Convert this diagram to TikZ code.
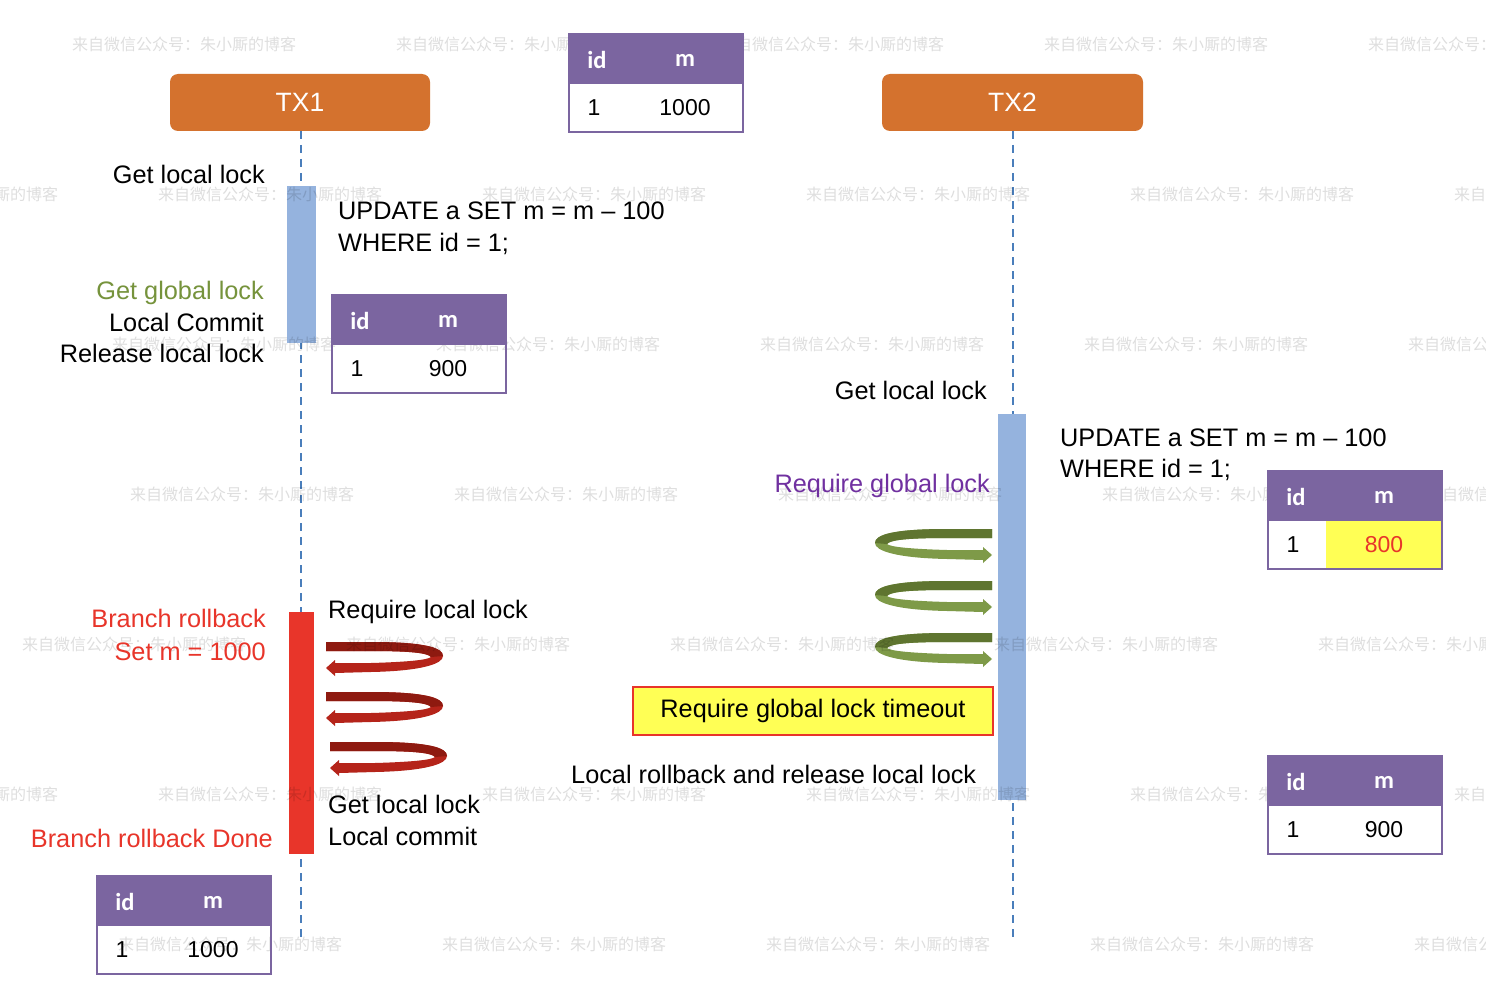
\documentclass[tikz,border=0pt]{standalone}
\usepackage{fontspec}
\setmainfont{Liberation Sans}
\newfontfamily\hdrfont{Carlito}
\newfontfamily\cjkfont{Noto Sans CJK SC}
\definecolor{txorange}{HTML}{D4722E}
\definecolor{lifeblue}{HTML}{4A7EBB}
\definecolor{barblue}{HTML}{95B3DE}
\definecolor{barred}{HTML}{E8352A}
\definecolor{tblpurple}{HTML}{7B65A0}
\definecolor{ggreen}{HTML}{76933C}
\definecolor{rpurple}{HTML}{7030A0}
\definecolor{txtred}{HTML}{E8352A}
\definecolor{hlyellow}{HTML}{FFFF55}
\definecolor{sgdark}{HTML}{5F7530}
\definecolor{sglight}{HTML}{7E9A48}
\definecolor{srdark}{HTML}{8E1A10}
\definecolor{srlight}{HTML}{B5241A}
% table body: name, x, y, value colour, value-cell fill, value
\newcommand\dbbody[6]{%
  \begin{scope}[shift={(#2,#3)}]
    \path[fill=#5] (58,50) rectangle (174,98);
    \node[cell] (#1-id) at (25,74) {1};
    \node[cell, text=#4] (#1-m) at (116,74) {#6};
  \end{scope}}
% table head and frame: name, x, y
\newcommand\dbhead[3]{%
  \begin{scope}[shift={(#2,#3)}]
    \fill[tblpurple] (0,0) rectangle (174,50);
    \draw[tblpurple, line width=1.5pt] (0,0) rectangle (174,98);
    \node[hdr] (#1-hid) at (28,26) {id};
    \node[hdr] (#1-hm) at (116,26) {m};
  \end{scope}}
\newcommand\spiral[3]{%
  \begin{scope}[#1]
    \fill[#3] (0,0) -- (-45,0) .. controls (-100,0) and (-117,6) .. (-117,14)
      .. controls (-117,22) and (-95,29) .. (-45,30) -- (-9,31) -- (-9,34) -- (0,26)
      -- (-9,18) -- (-9,21) -- (-45,21) .. controls (-80,20) and (-102,18) .. (-105,15)
      .. controls (-102,11) and (-85,9) .. (-45,9) -- (0,9) -- cycle;
    \fill[#2] (0,0) -- (-45,0) .. controls (-100,0) and (-117,6) .. (-117,14)
      -- (-105,15) .. controls (-102,11) and (-85,9) .. (-45,9) -- (0,9) -- cycle;
  \end{scope}}
\begin{document}
\begin{tikzpicture}[x=1pt,y=-1pt,
  lbl/.style={inner sep=0pt, font=\fontsize{25.3}{30}\selectfont},
  hdr/.style={inner sep=0pt, text=white, font=\hdrfont\bfseries\fontsize{24.5}{28}\selectfont},
  cell/.style={inner sep=0pt, font=\fontsize{23}{27}\selectfont},
  txbox/.style={fill=txorange, rounded corners=8pt, minimum width=260pt, minimum height=57pt,
    inner sep=0pt, text=white, font=\fontsize{26.5}{30}\selectfont},
  lifeline/.style={lifeblue, line width=2pt, dash pattern=on 8pt off 6pt},
  bar/.style={inner sep=0pt, outer sep=0pt, draw=none},
  wmark/.style={inner sep=0pt, anchor=west, text=black, text opacity=0.13,
    font=\cjkfont\fontsize{16}{18}\selectfont}]
\useasboundingbox (0,0) rectangle (1486,1006);
\clip (0,0) rectangle (1486,1006);
\fill[white] (0,0) rectangle (1486,1006);

% participants
\node[txbox] (tx1) at (300,102.5) {TX1};
\node[txbox, minimum width=261pt] (tx2) at (1012.5,102.5) {TX2};
\coordinate (tx1end) at (301,940);
\coordinate (tx2end) at (1013,940);
\draw[lifeline] (301,131) -- (tx1end);
\draw[lifeline] (1013,131) -- (tx2end);

% activation bars
\node[bar, fill=barblue, minimum width=29pt, minimum height=157pt] (bar1) at (301.5,264.5) {};
\node[bar, fill=barred, minimum width=25pt, minimum height=242pt] (bar2) at (301.5,733) {};
\node[bar, fill=barblue, minimum width=28pt, minimum height=386pt] (bar3) at (1012,607) {};

% spirals
\spiral{shift={(992,529)}}{sgdark}{sglight}
\spiral{shift={(992,581)}}{sgdark}{sglight}
\spiral{shift={(992,633)}}{sgdark}{sglight}
\spiral{shift={(326,642)},xscale=-1}{srdark}{srlight}
\spiral{shift={(326,692)},xscale=-1}{srdark}{srlight}
\spiral{shift={(330,742)},xscale=-1}{srdark}{srlight}

% table bodies
\dbbody{t1}{569}{34}{black}{none}{1000}
\dbbody{t2}{332}{295}{black}{none}{900}
\dbbody{t3}{1268}{471}{txtred}{hlyellow}{800}
\dbbody{t4}{97}{876}{black}{none}{1000}
\dbbody{t5}{1268}{756}{black}{none}{900}

% watermark
\foreach \wy/\wx [count=\r] in {44/72,194/-166,344/112,494/130,644/22,794/-166,944/118}
  \foreach \k in {0,...,5}
    \node[wmark] (wm-\r-\k) at ({\wx+324*\k},\wy) {来自微信公众号：朱小厮的博客};

% table heads and frames
\dbhead{t1}{569}{34}
\dbhead{t2}{332}{295}
\dbhead{t3}{1268}{471}
\dbhead{t4}{97}{876}
\dbhead{t5}{1268}{756}

% timeout box
\node[draw=barred, line width=2pt, fill=hlyellow, minimum width=360pt, minimum height=48pt,
  inner sep=0pt, font=\fontsize{25.3}{30}\selectfont] (timeout) at (813,711) {Require global lock timeout};

% labels TX1
\node[lbl, anchor=base east] (l1) at (265,183) {Get local lock};
\node[lbl, anchor=base west] (l2) at (338,219) {UPDATE a SET m = m – 100};
\node[lbl, anchor=base west] (l3) at (338,251) {WHERE id = 1;};
\node[lbl, anchor=base east, text=ggreen] (l4) at (264,299) {Get global lock};
\node[lbl, anchor=base east] (l5) at (264,331) {Local Commit};
\node[lbl, anchor=base east] (l6) at (264,362) {Release local lock};
\node[lbl, anchor=base west] (l7) at (328,618) {Require local lock};
\node[lbl, anchor=base east, text=txtred] (l8) at (266,627) {Branch rollback};
\node[lbl, anchor=base east, text=txtred] (l9) at (266,660) {Set m = 1000};
\node[lbl, anchor=base west] (l10) at (328,813) {Get local lock};
\node[lbl, anchor=base west] (l11) at (328,845) {Local commit};
\node[lbl, anchor=base east, text=txtred] (l12) at (273,847) {Branch rollback Done};

% labels TX2
\node[lbl, anchor=base east] (r1) at (987,399) {Get local lock};
\node[lbl, anchor=base west] (r2) at (1060,446) {UPDATE a SET m = m – 100};
\node[lbl, anchor=base west] (r3) at (1060,477) {WHERE id = 1;};
\node[lbl, anchor=base east, text=rpurple] (r4) at (990,492) {Require global lock};
\node[lbl, anchor=base west] (r5) at (571,783) {Local rollback and release local lock};
\end{tikzpicture}
\end{document}
